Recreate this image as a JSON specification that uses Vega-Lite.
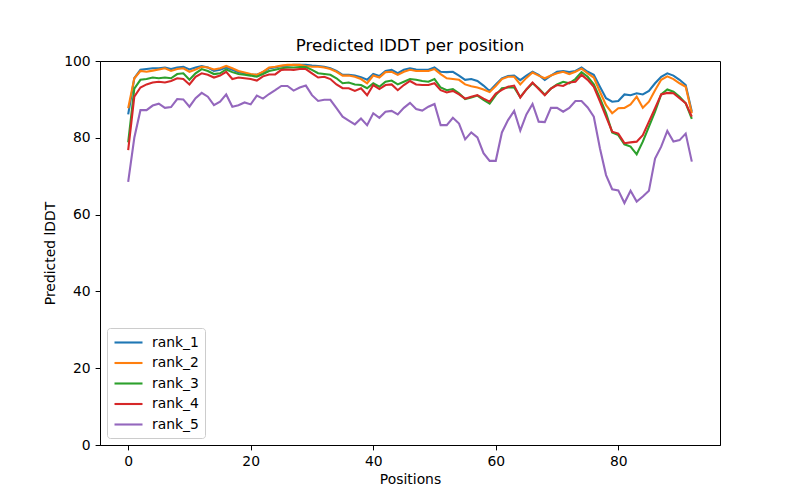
{
  "$schema": "https://vega.github.io/schema/vega-lite/v6.json",
  "width": 620,
  "height": 384,
  "autosize": {"type": "none"},
  "padding": {"left": 100, "top": 61, "right": 80, "bottom": 55},
  "background": "white",
  "title": {"text": "Predicted lDDT per position", "fontSize": 16.7, "fontWeight": "normal", "font": "DejaVu Sans", "color": "black", "offset": -1},
  "config": {
    "view": {"stroke": "black", "strokeWidth": 1},
    "axis": {
      "grid": false,
      "domainColor": "black",
      "domainWidth": 1,
      "tickColor": "black",
      "tickSize": 4.9,
      "tickWidth": 1,
      "labelFont": "DejaVu Sans",
      "labelFontSize": 13.9,
      "labelColor": "black",
      "labelPadding": 4.9,
      "titleFont": "DejaVu Sans",
      "titleFontSize": 13.9,
      "titleFontWeight": "normal",
      "titleColor": "black"
    }
  },
  "data": {"values": [
    {"pos":0,"rank_1":86.1,"rank_2":87.7,"rank_3":78.8,"rank_4":76.8,"rank_5":68.5},
    {"pos":1,"rank_1":95.5,"rank_2":95.5,"rank_3":92.8,"rank_4":90.7,"rank_5":80.0},
    {"pos":2,"rank_1":97.7,"rank_2":97.4,"rank_3":95.1,"rank_4":93.1,"rank_5":87.2},
    {"pos":3,"rank_1":97.9,"rank_2":97.2,"rank_3":95.3,"rank_4":93.9,"rank_5":87.2},
    {"pos":4,"rank_1":98.1,"rank_2":97.5,"rank_3":95.7,"rank_4":94.4,"rank_5":88.4},
    {"pos":5,"rank_1":98.1,"rank_2":97.8,"rank_3":95.5,"rank_4":94.6,"rank_5":88.9},
    {"pos":6,"rank_1":98.3,"rank_2":98.1,"rank_3":95.7,"rank_4":94.4,"rank_5":87.8},
    {"pos":7,"rank_1":97.9,"rank_2":97.4,"rank_3":95.5,"rank_4":94.8,"rank_5":88.0},
    {"pos":8,"rank_1":98.3,"rank_2":97.9,"rank_3":96.6,"rank_4":95.5,"rank_5":90.1},
    {"pos":9,"rank_1":98.5,"rank_2":98.1,"rank_3":96.8,"rank_4":95.3,"rank_5":90.0},
    {"pos":10,"rank_1":97.8,"rank_2":97.2,"rank_3":95.1,"rank_4":93.9,"rank_5":88.1},
    {"pos":11,"rank_1":98.3,"rank_2":97.8,"rank_3":96.8,"rank_4":95.9,"rank_5":90.3},
    {"pos":12,"rank_1":98.7,"rank_2":98.5,"rank_3":97.9,"rank_4":96.8,"rank_5":91.7},
    {"pos":13,"rank_1":98.3,"rank_2":98.3,"rank_3":97.4,"rank_4":96.4,"rank_5":90.7},
    {"pos":14,"rank_1":97.4,"rank_2":97.8,"rank_3":96.6,"rank_4":95.7,"rank_5":88.5},
    {"pos":15,"rank_1":97.7,"rank_2":98.1,"rank_3":96.8,"rank_4":96.2,"rank_5":89.4},
    {"pos":16,"rank_1":98.3,"rank_2":98.7,"rank_3":97.8,"rank_4":97.2,"rank_5":91.3},
    {"pos":17,"rank_1":97.7,"rank_2":98.1,"rank_3":97.1,"rank_4":95.3,"rank_5":88.1},
    {"pos":18,"rank_1":97.1,"rank_2":97.4,"rank_3":96.6,"rank_4":95.7,"rank_5":88.5},
    {"pos":19,"rank_1":96.8,"rank_2":97.0,"rank_3":96.4,"rank_4":95.5,"rank_5":89.2},
    {"pos":20,"rank_1":96.5,"rank_2":96.6,"rank_3":96.2,"rank_4":95.3,"rank_5":88.7},
    {"pos":21,"rank_1":96.4,"rank_2":96.4,"rank_3":95.9,"rank_4":94.9,"rank_5":91.0},
    {"pos":22,"rank_1":97.1,"rank_2":97.2,"rank_3":96.6,"rank_4":96.0,"rank_5":90.2},
    {"pos":23,"rank_1":98.1,"rank_2":98.3,"rank_3":97.4,"rank_4":96.5,"rank_5":91.4},
    {"pos":24,"rank_1":98.3,"rank_2":98.5,"rank_3":97.7,"rank_4":96.5,"rank_5":92.4},
    {"pos":25,"rank_1":98.7,"rank_2":98.8,"rank_3":98.1,"rank_4":97.7,"rank_5":93.5},
    {"pos":26,"rank_1":98.8,"rank_2":99.0,"rank_3":98.3,"rank_4":97.8,"rank_5":93.5},
    {"pos":27,"rank_1":99.0,"rank_2":99.0,"rank_3":98.3,"rank_4":97.7,"rank_5":92.3},
    {"pos":28,"rank_1":99.0,"rank_2":99.0,"rank_3":98.4,"rank_4":97.9,"rank_5":93.1},
    {"pos":29,"rank_1":99.0,"rank_2":98.7,"rank_3":98.4,"rank_4":97.9,"rank_5":93.6},
    {"pos":30,"rank_1":98.8,"rank_2":98.5,"rank_3":97.7,"rank_4":96.8,"rank_5":91.1},
    {"pos":31,"rank_1":98.7,"rank_2":98.5,"rank_3":96.8,"rank_4":95.7,"rank_5":89.6},
    {"pos":32,"rank_1":98.5,"rank_2":98.3,"rank_3":96.6,"rank_4":95.9,"rank_5":89.9},
    {"pos":33,"rank_1":98.1,"rank_2":97.9,"rank_3":96.4,"rank_4":95.3,"rank_5":89.9},
    {"pos":34,"rank_1":97.4,"rank_2":97.2,"rank_3":95.5,"rank_4":93.9,"rank_5":87.7},
    {"pos":35,"rank_1":96.4,"rank_2":96.2,"rank_3":94.2,"rank_4":92.9,"rank_5":85.5},
    {"pos":36,"rank_1":96.4,"rank_2":96.2,"rank_3":94.4,"rank_4":92.9,"rank_5":84.5},
    {"pos":37,"rank_1":96.2,"rank_2":95.9,"rank_3":93.9,"rank_4":92.2,"rank_5":83.5},
    {"pos":38,"rank_1":95.8,"rank_2":95.3,"rank_3":93.75,"rank_4":92.9,"rank_5":85.0},
    {"pos":39,"rank_1":95.1,"rank_2":94.2,"rank_3":92.9,"rank_4":91.1,"rank_5":83.3},
    {"pos":40,"rank_1":96.6,"rank_2":96.2,"rank_3":94.2,"rank_4":93.75,"rank_5":86.4},
    {"pos":41,"rank_1":96.1,"rank_2":95.7,"rank_3":93.3,"rank_4":92.7,"rank_5":85.2},
    {"pos":42,"rank_1":97.4,"rank_2":97.1,"rank_3":94.6,"rank_4":93.75,"rank_5":86.8},
    {"pos":43,"rank_1":97.7,"rank_2":97.2,"rank_3":94.9,"rank_4":93.9,"rank_5":87.0},
    {"pos":44,"rank_1":96.8,"rank_2":96.4,"rank_3":93.9,"rank_4":92.4,"rank_5":86.1},
    {"pos":45,"rank_1":97.7,"rank_2":97.2,"rank_3":94.6,"rank_4":93.75,"rank_5":87.8},
    {"pos":46,"rank_1":98.1,"rank_2":97.7,"rank_3":95.3,"rank_4":94.8,"rank_5":89.1},
    {"pos":47,"rank_1":97.8,"rank_2":97.4,"rank_3":95.1,"rank_4":93.9,"rank_5":87.5},
    {"pos":48,"rank_1":97.7,"rank_2":97.4,"rank_3":94.8,"rank_4":93.75,"rank_5":87.1},
    {"pos":49,"rank_1":97.7,"rank_2":97.4,"rank_3":94.6,"rank_4":93.75,"rank_5":88.1},
    {"pos":50,"rank_1":98.3,"rank_2":97.9,"rank_3":95.3,"rank_4":94.2,"rank_5":88.8},
    {"pos":51,"rank_1":97.2,"rank_2":96.6,"rank_3":93.1,"rank_4":92.4,"rank_5":83.3},
    {"pos":52,"rank_1":97.1,"rank_2":95.5,"rank_3":92.4,"rank_4":91.8,"rank_5":83.3},
    {"pos":53,"rank_1":97.2,"rank_2":95.3,"rank_3":92.7,"rank_4":92.2,"rank_5":85.2},
    {"pos":54,"rank_1":96.2,"rank_2":95.1,"rank_3":91.6,"rank_4":91.3,"rank_5":83.7},
    {"pos":55,"rank_1":95.1,"rank_2":93.9,"rank_3":90.1,"rank_4":90.2,"rank_5":79.6},
    {"pos":56,"rank_1":95.3,"rank_2":93.4,"rank_3":90.5,"rank_4":90.7,"rank_5":81.4},
    {"pos":57,"rank_1":94.8,"rank_2":93.1,"rank_3":91.0,"rank_4":91.1,"rank_5":80.1},
    {"pos":58,"rank_1":93.6,"rank_2":92.6,"rank_3":89.9,"rank_4":90.2,"rank_5":76.0},
    {"pos":59,"rank_1":92.2,"rank_2":91.9,"rank_3":88.9,"rank_4":89.4,"rank_5":74.0},
    {"pos":60,"rank_1":93.9,"rank_2":93.5,"rank_3":91.1,"rank_4":91.5,"rank_5":74.0},
    {"pos":61,"rank_1":95.5,"rank_2":95.3,"rank_3":92.9,"rank_4":92.5,"rank_5":81.4},
    {"pos":62,"rank_1":96.1,"rank_2":95.9,"rank_3":93.1,"rank_4":93.3,"rank_5":84.6},
    {"pos":63,"rank_1":96.2,"rank_2":95.9,"rank_3":93.1,"rank_4":93.6,"rank_5":87.0},
    {"pos":64,"rank_1":95.0,"rank_2":93.9,"rank_3":90.6,"rank_4":90.5,"rank_5":81.9},
    {"pos":65,"rank_1":96.2,"rank_2":95.6,"rank_3":92.6,"rank_4":92.6,"rank_5":86.1},
    {"pos":66,"rank_1":97.2,"rank_2":97.0,"rank_3":94.2,"rank_4":94.4,"rank_5":88.8},
    {"pos":67,"rank_1":96.4,"rank_2":96.2,"rank_3":92.9,"rank_4":92.7,"rank_5":84.2},
    {"pos":68,"rank_1":95.1,"rank_2":95.5,"rank_3":91.2,"rank_4":91.1,"rank_5":84.1},
    {"pos":69,"rank_1":96.2,"rank_2":96.2,"rank_3":92.8,"rank_4":92.8,"rank_5":87.8},
    {"pos":70,"rank_1":97.2,"rank_2":96.8,"rank_3":93.9,"rank_4":93.75,"rank_5":87.8},
    {"pos":71,"rank_1":97.4,"rank_2":97.2,"rank_3":94.6,"rank_4":93.5,"rank_5":86.8},
    {"pos":72,"rank_1":97.1,"rank_2":96.6,"rank_3":94.2,"rank_4":94.4,"rank_5":87.8},
    {"pos":73,"rank_1":97.4,"rank_2":97.2,"rank_3":95.3,"rank_4":94.6,"rank_5":89.6},
    {"pos":74,"rank_1":98.3,"rank_2":98.0,"rank_3":97.1,"rank_4":96.4,"rank_5":89.6},
    {"pos":75,"rank_1":97.2,"rank_2":96.8,"rank_3":95.9,"rank_4":95.1,"rank_5":87.9},
    {"pos":76,"rank_1":96.4,"rank_2":95.7,"rank_3":93.9,"rank_4":93.3,"rank_5":85.5},
    {"pos":77,"rank_1":93.3,"rank_2":92.0,"rank_3":90.3,"rank_4":89.5,"rank_5":77.3},
    {"pos":78,"rank_1":90.3,"rank_2":88.5,"rank_3":86.4,"rank_4":85.5,"rank_5":70.3},
    {"pos":79,"rank_1":89.4,"rank_2":86.4,"rank_3":81.4,"rank_4":81.6,"rank_5":66.6},
    {"pos":80,"rank_1":89.6,"rank_2":87.7,"rank_3":80.7,"rank_4":81.1,"rank_5":66.3},
    {"pos":81,"rank_1":91.3,"rank_2":87.8,"rank_3":78.3,"rank_4":78.6,"rank_5":63.0},
    {"pos":82,"rank_1":91.1,"rank_2":88.7,"rank_3":77.7,"rank_4":78.8,"rank_5":66.2},
    {"pos":83,"rank_1":91.6,"rank_2":90.7,"rank_3":75.7,"rank_4":79.0,"rank_5":63.4},
    {"pos":84,"rank_1":91.3,"rank_2":87.8,"rank_3":79.0,"rank_4":80.7,"rank_5":64.7},
    {"pos":85,"rank_1":92.2,"rank_2":89.4,"rank_3":82.9,"rank_4":84.2,"rank_5":66.2},
    {"pos":86,"rank_1":94.2,"rank_2":92.4,"rank_3":86.8,"rank_4":87.7,"rank_5":74.6},
    {"pos":87,"rank_1":95.9,"rank_2":95.1,"rank_3":91.3,"rank_4":91.3,"rank_5":77.7},
    {"pos":88,"rank_1":96.8,"rank_2":96.0,"rank_3":92.6,"rank_4":91.7,"rank_5":81.8},
    {"pos":89,"rank_1":96.2,"rank_2":95.3,"rank_3":92.0,"rank_4":91.6,"rank_5":79.0},
    {"pos":90,"rank_1":95.1,"rank_2":94.2,"rank_3":90.7,"rank_4":90.3,"rank_5":79.4},
    {"pos":91,"rank_1":93.75,"rank_2":93.3,"rank_3":89.0,"rank_4":89.0,"rank_5":81.1},
    {"pos":92,"rank_1":86.8,"rank_2":86.4,"rank_3":84.9,"rank_4":85.5,"rank_5":73.8}
  ]},
  "transform": [{"fold": ["rank_1", "rank_2", "rank_3", "rank_4", "rank_5"], "as": ["model", "lddt"]}],
  "mark": {"type": "line", "strokeWidth": 2.1, "clip": true},
  "encoding": {
    "x": {"field": "pos", "type": "quantitative", "scale": {"domain": [-4.6, 96.6], "nice": false, "zero": false}, "axis": {"values": [0, 20, 40, 60, 80], "title": "Positions", "titlePadding": 4}},
    "y": {"field": "lddt", "type": "quantitative", "scale": {"domain": [0, 100], "nice": false}, "axis": {"values": [0, 20, 40, 60, 80, 100], "title": "Predicted lDDT", "titlePadding": 6}},
    "color": {
      "field": "model", "type": "nominal",
      "scale": {"domain": ["rank_1", "rank_2", "rank_3", "rank_4", "rank_5"], "range": ["#1f77b4", "#ff7f0e", "#2ca02c", "#d62728", "#9467bd"]},
      "legend": {
        "title": null,
        "orient": "bottom-left",
        "offset": 7,
        "padding": 6,
        "strokeColor": "#cccccc",
        "fillColor": "rgba(255,255,255,0.8)",
        "cornerRadius": 3,
        "symbolType": "M-2,0H2",
        "symbolSize": 196,
        "symbolOffset": 7,
        "symbolStrokeWidth": 2.1,
        "labelFont": "DejaVu Sans",
        "labelFontSize": 13.9,
        "labelColor": "black",
        "labelOffset": 15,
        "rowPadding": 4.5
      }
    }
  }
}
